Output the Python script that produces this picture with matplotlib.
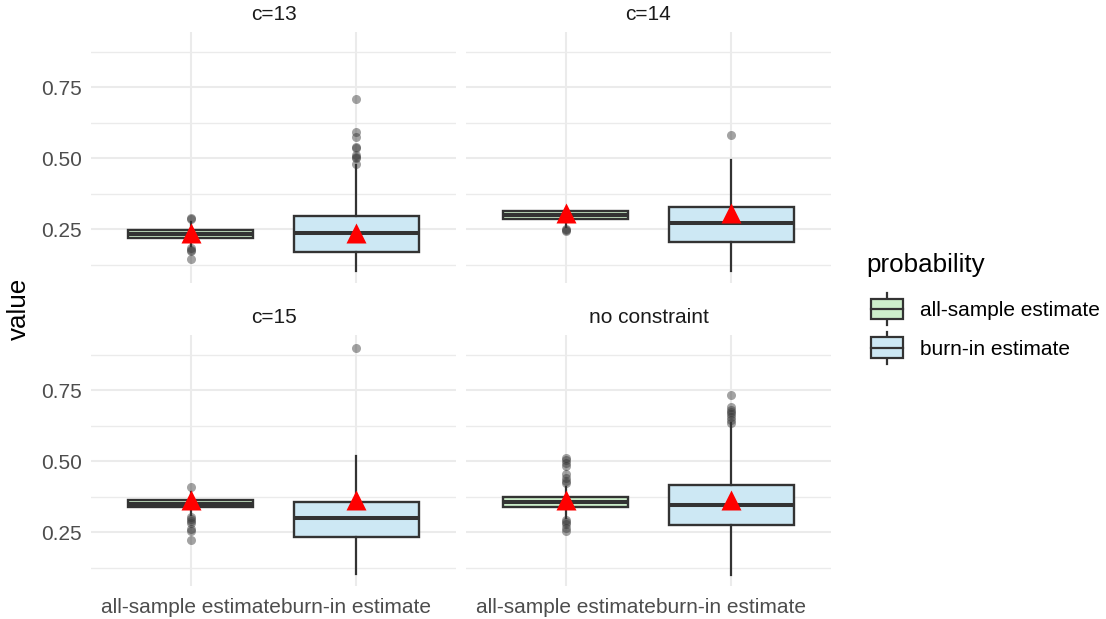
import matplotlib
matplotlib.use("Agg")
import matplotlib.pyplot as plt
from matplotlib.patches import Rectangle, Patch
from matplotlib.lines import Line2D
from matplotlib.legend_handler import HandlerBase

plt.rcParams['font.family'] = ['Liberation Sans', 'DejaVu Sans']

# facets and categories
panels = ['c=13', 'c=14', 'c=15', 'no constraint']
categories = ['all-sample estimate', 'burn-in estimate']

# box stats per panel: [all-sample, burn-in]
q1 = [[0.219, 0.170], [0.287, 0.205], [0.337, 0.233], [0.338, 0.275]]
med = [[0.232, 0.237], [0.300, 0.270], [0.350, 0.300], [0.355, 0.345]]
q3 = [[0.246, 0.296], [0.315, 0.329], [0.364, 0.357], [0.373, 0.415]]
whislo = [[0.192, 0.103], [0.258, 0.103], [0.312, 0.101], [0.300, 0.100]]
whishi = [[0.275, 0.475], [0.322, 0.495], [0.392, 0.518], [0.410, 0.635]]
means = [[0.238, 0.238], [0.307, 0.307], [0.363, 0.363], [0.363, 0.363]]
fliers = [
    [[0.290, 0.285, 0.183, 0.178, 0.172, 0.143],
     [0.710, 0.593, 0.575, 0.540, 0.535, 0.512, 0.505, 0.500, 0.481]],
    [[0.250, 0.246, 0.242],
     [0.583]],
    [[0.410, 0.304, 0.296, 0.290, 0.282, 0.262, 0.253, 0.222],
     [0.900]],
    [[0.512, 0.505, 0.495, 0.482, 0.455, 0.440, 0.430, 0.422,
      0.292, 0.285, 0.278, 0.265, 0.255],
     [0.735, 0.690, 0.680, 0.672, 0.665, 0.655, 0.645, 0.635]],
]

fills = ['#CDEFCB', '#CDE8F4']
edge = '#333333'
grid_c = '#EBEBEB'

fig = plt.figure(figsize=(11.06, 6.19), dpi=100)
W, H = 1106, 619
boxes_px = [(91, 32), (466, 32), (91, 335), (466, 335)]
aw, ah = 365, 251

for i, name in enumerate(panels):
    x0, y0 = boxes_px[i]
    ax = fig.add_axes([x0 / W, 1 - (y0 + ah) / H, aw / W, ah / H])
    stats = []
    for j in range(2):
        stats.append(dict(med=med[i][j], q1=q1[i][j], q3=q3[i][j],
                          whislo=whislo[i][j], whishi=whishi[i][j],
                          fliers=fliers[i][j], mean=means[i][j]))
    bp = ax.bxp(stats, positions=[1, 2], widths=0.75, patch_artist=True,
                showcaps=False, showfliers=True, showmeans=False,
                boxprops=dict(edgecolor=edge, linewidth=1.7),
                medianprops=dict(color=edge, linewidth=2.9),
                whiskerprops=dict(color=edge, linewidth=1.6),
                flierprops=dict(marker='o', markersize=6.5, markerfacecolor=edge,
                                markeredgecolor='none', alpha=0.45))
    for patch, fc in zip(bp['boxes'], fills):
        patch.set_facecolor(fc)
    ax.plot([1, 2], means[i], linestyle='none', marker='^', markersize=15,
            color='red', markeredgecolor='none', zorder=5)

    ax.set_xlim(0.4, 2.6)
    ax.set_ylim(0.06, 0.945)
    ax.set_xticks([1, 2])
    ax.set_yticks([0.25, 0.5, 0.75])
    ax.set_yticks([0.125, 0.375, 0.625, 0.875], minor=True)
    ax.grid(True, which='major', color=grid_c, linewidth=1.5)
    ax.grid(True, which='minor', axis='y', color=grid_c, linewidth=1.0)
    ax.set_axisbelow(True)
    for s in ax.spines.values():
        s.set_visible(False)
    ax.tick_params(which='both', length=0, labelsize=15, labelcolor='#4D4D4D')
    ax.tick_params(axis='x', pad=8.5)
    ax.tick_params(axis='y', pad=6.5)
    if i < 2:
        ax.set_xticklabels([])
    else:
        ax.set_xticklabels(categories)
    if i % 2 == 1:
        ax.set_yticklabels([])
    else:
        ax.set_yticklabels(['0.25', '0.50', '0.75'])
    ax.set_title(name, fontsize=15, color='#1A1A1A', pad=8.5)

fig.text(19 / W, 1 - 309 / H, 'value', rotation=90, fontsize=18.7,
         ha='center', va='center', color='black')


class HandlerBox(HandlerBase):
    def create_artists(self, legend, orig_handle, xdescent, ydescent,
                       width, height, fontsize, trans):
        left = -xdescent
        right = width - xdescent
        cx = (left + right) / 2
        bh = height * 0.66
        by = -ydescent + (height - bh) / 2
        rect = Rectangle((left, by), right - left, bh,
                         facecolor=orig_handle.get_facecolor(),
                         edgecolor=edge, linewidth=1.6, transform=trans)
        mid = by + bh / 2
        m = Line2D([left, right], [mid, mid], color=edge,
                   linewidth=1.6, transform=trans)
        w1 = Line2D([cx, cx], [by + bh, -ydescent + height], color=edge,
                    linewidth=1.6, transform=trans)
        w2 = Line2D([cx, cx], [by, -ydescent], color=edge,
                    linewidth=1.6, transform=trans)
        return [w1, w2, rect, m]


fig.text(866 / W, 1 - 265 / H, 'probability', fontsize=18.7,
         ha='left', va='center', color='black')
handles = [Patch(facecolor=fc, edgecolor=edge) for fc in fills]
leg = fig.legend(handles, categories, handler_map={Patch: HandlerBox()},
                 loc='upper left', bbox_to_anchor=(863 / W, 1 - 285 / H),
                 frameon=False, fontsize=15,
                 handlelength=1.54, handleheight=1.95,
                 handletextpad=0.82, labelspacing=0.35,
                 borderaxespad=0)

fig.savefig('out.png', dpi=100, facecolor='white')
